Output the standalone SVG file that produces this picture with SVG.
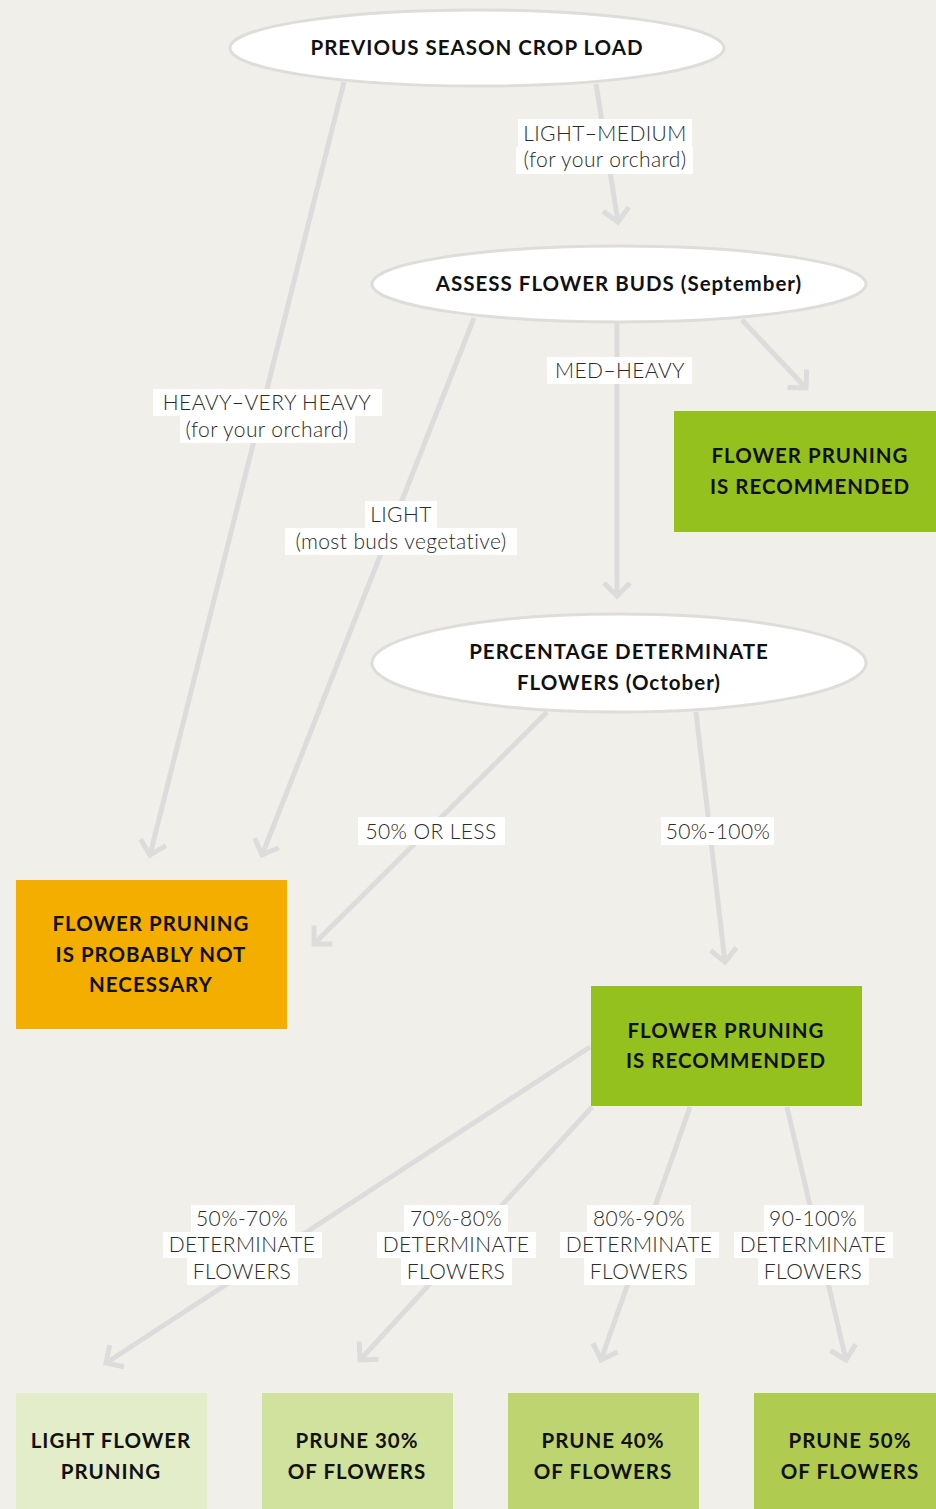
<svg xmlns="http://www.w3.org/2000/svg" width="936" height="1509" viewBox="0 0 936 1509">
<defs>
<marker id="arr" markerUnits="userSpaceOnUse" viewBox="-20 -20 40 40" markerWidth="40" markerHeight="40" refX="0" refY="0" orient="auto" overflow="visible">
<path d="M -13 -13 L 0 0 L -13 13" fill="none" stroke="#DCDCDC" stroke-width="5"/>
</marker>
</defs>
<style>
.bg{fill:#F0EFE9}
.conn{stroke:#DCDCDC;stroke-width:5;fill:none;marker-end:url(#arr)}
.ell{fill:#FFFFFF;stroke:#DDDDDB;stroke-width:3}
.bt{font-family:Lato,"Liberation Sans",sans-serif;font-weight:700;font-size:20.5px;letter-spacing:1px;fill:#111;text-anchor:middle}
.lt{font-family:Lato,"Liberation Sans",sans-serif;font-weight:300;font-size:21px;letter-spacing:0.4px;fill:#2a2a2a;text-anchor:middle}
.lb{fill:#FFFFFF}
</style>
<rect class="bg" x="0" y="0" width="936" height="1509"/>

<g id="connectors">
<line class="conn" x1="344" y1="82" x2="150" y2="855"/>
<line class="conn" x1="596" y1="84" x2="618" y2="222"/>
<line class="conn" x1="474" y1="318" x2="262" y2="855"/>
<line class="conn" x1="617" y1="322" x2="617" y2="596"/>
<line class="conn" x1="742" y1="320" x2="806" y2="388"/>
<line class="conn" x1="547" y1="712" x2="314" y2="944"/>
<line class="conn" x1="696" y1="712" x2="725" y2="962"/>
<line class="conn" x1="590" y1="1047" x2="106" y2="1363"/>
<line class="conn" x1="592" y1="1107" x2="360" y2="1360"/>
<line class="conn" x1="690" y1="1107" x2="601" y2="1360"/>
<line class="conn" x1="787" y1="1107" x2="846" y2="1360"/>
</g>

<g id="labels">
<rect class="lb" x="518" y="119" width="174" height="28"/>
<rect class="lb" x="516" y="147" width="177" height="27"/>
<text class="lt" x="605" y="141">LIGHT–MEDIUM</text>
<text class="lt" x="605" y="167">(for your orchard)</text>

<rect class="lb" x="153" y="389" width="229" height="27"/>
<rect class="lb" x="180" y="416" width="175" height="27"/>
<text class="lt" x="267" y="410">HEAVY–VERY HEAVY</text>
<text class="lt" x="267" y="437">(for your orchard)</text>

<rect class="lb" x="547" y="357" width="145" height="27"/>
<text class="lt" x="620" y="378">MED–HEAVY</text>

<rect class="lb" x="365" y="501" width="72" height="27"/>
<rect class="lb" x="285" y="528" width="232" height="27"/>
<text class="lt" x="401" y="522">LIGHT</text>
<text class="lt" x="401" y="549">(most buds vegetative)</text>

<rect class="lb" x="358" y="817" width="147" height="28"/>
<text class="lt" x="431" y="839">50% OR LESS</text>

<rect class="lb" x="661" y="817" width="113" height="28"/>
<text class="lt" x="718" y="839">50%-100%</text>

<rect class="lb" x="191" y="1205" width="104" height="27"/>
<rect class="lb" x="163" y="1232" width="159" height="26"/>
<rect class="lb" x="187" y="1258" width="111" height="27"/>
<text class="lt" x="242" y="1226">50%-70%</text>
<text class="lt" x="242" y="1252">DETERMINATE</text>
<text class="lt" x="242" y="1279">FLOWERS</text>

<rect class="lb" x="404" y="1205" width="104" height="27"/>
<rect class="lb" x="377" y="1232" width="159" height="26"/>
<rect class="lb" x="401" y="1258" width="111" height="27"/>
<text class="lt" x="456" y="1226">70%-80%</text>
<text class="lt" x="456" y="1252">DETERMINATE</text>
<text class="lt" x="456" y="1279">FLOWERS</text>

<rect class="lb" x="587" y="1205" width="104" height="27"/>
<rect class="lb" x="560" y="1232" width="159" height="26"/>
<rect class="lb" x="584" y="1258" width="111" height="27"/>
<text class="lt" x="639" y="1226">80%-90%</text>
<text class="lt" x="639" y="1252">DETERMINATE</text>
<text class="lt" x="639" y="1279">FLOWERS</text>

<rect class="lb" x="764" y="1205" width="100" height="27"/>
<rect class="lb" x="734" y="1232" width="159" height="26"/>
<rect class="lb" x="758" y="1258" width="111" height="27"/>
<text class="lt" x="813" y="1226">90-100%</text>
<text class="lt" x="813" y="1252">DETERMINATE</text>
<text class="lt" x="813" y="1279">FLOWERS</text>
</g>

<g id="n-previous">
<ellipse class="ell" cx="477" cy="48" rx="247" ry="38"/>
<text class="bt" x="477" y="55">PREVIOUS SEASON CROP LOAD</text>
</g>
<g id="n-assess">
<ellipse class="ell" cx="619" cy="284" rx="247" ry="38"/>
<text class="bt" x="619" y="291">ASSESS FLOWER BUDS (September)</text>
</g>
<g id="n-percentage">
<ellipse class="ell" cx="619" cy="663" rx="247" ry="49"/>
<text class="bt" x="619" y="659">PERCENTAGE DETERMINATE</text>
<text class="bt" x="619" y="690">FLOWERS (October)</text>
</g>
<g id="n-rec1">
<rect x="674" y="411" width="262" height="121" fill="#95C11F"/>
<text class="bt" x="810" y="463">FLOWER PRUNING</text>
<text class="bt" x="810" y="494">IS RECOMMENDED</text>
</g>
<g id="n-notnecessary">
<rect x="16" y="880" width="271" height="149" fill="#F3AE00"/>
<text class="bt" x="151" y="931">FLOWER PRUNING</text>
<text class="bt" x="151" y="962">IS PROBABLY NOT</text>
<text class="bt" x="151" y="992">NECESSARY</text>
</g>
<g id="n-rec2">
<rect x="591" y="986" width="271" height="120" fill="#95C11F"/>
<text class="bt" x="726" y="1038">FLOWER PRUNING</text>
<text class="bt" x="726" y="1068">IS RECOMMENDED</text>
</g>
<g id="n-light">
<rect x="16" y="1393" width="191" height="116" fill="#E3EDCA"/>
<text class="bt" x="111" y="1448">LIGHT FLOWER</text>
<text class="bt" x="111" y="1479">PRUNING</text>
</g>
<g id="n-prune30">
<rect x="262" y="1393" width="191" height="116" fill="#D1E29F"/>
<text class="bt" x="357" y="1448">PRUNE 30%</text>
<text class="bt" x="357" y="1479">OF FLOWERS</text>
</g>
<g id="n-prune40">
<rect x="508" y="1393" width="191" height="116" fill="#BDD470"/>
<text class="bt" x="603" y="1448">PRUNE 40%</text>
<text class="bt" x="603" y="1479">OF FLOWERS</text>
</g>
<g id="n-prune50">
<rect x="754" y="1393" width="182" height="116" fill="#AFCB50"/>
<text class="bt" x="850" y="1448">PRUNE 50%</text>
<text class="bt" x="850" y="1479">OF FLOWERS</text>
</g>
</svg>
